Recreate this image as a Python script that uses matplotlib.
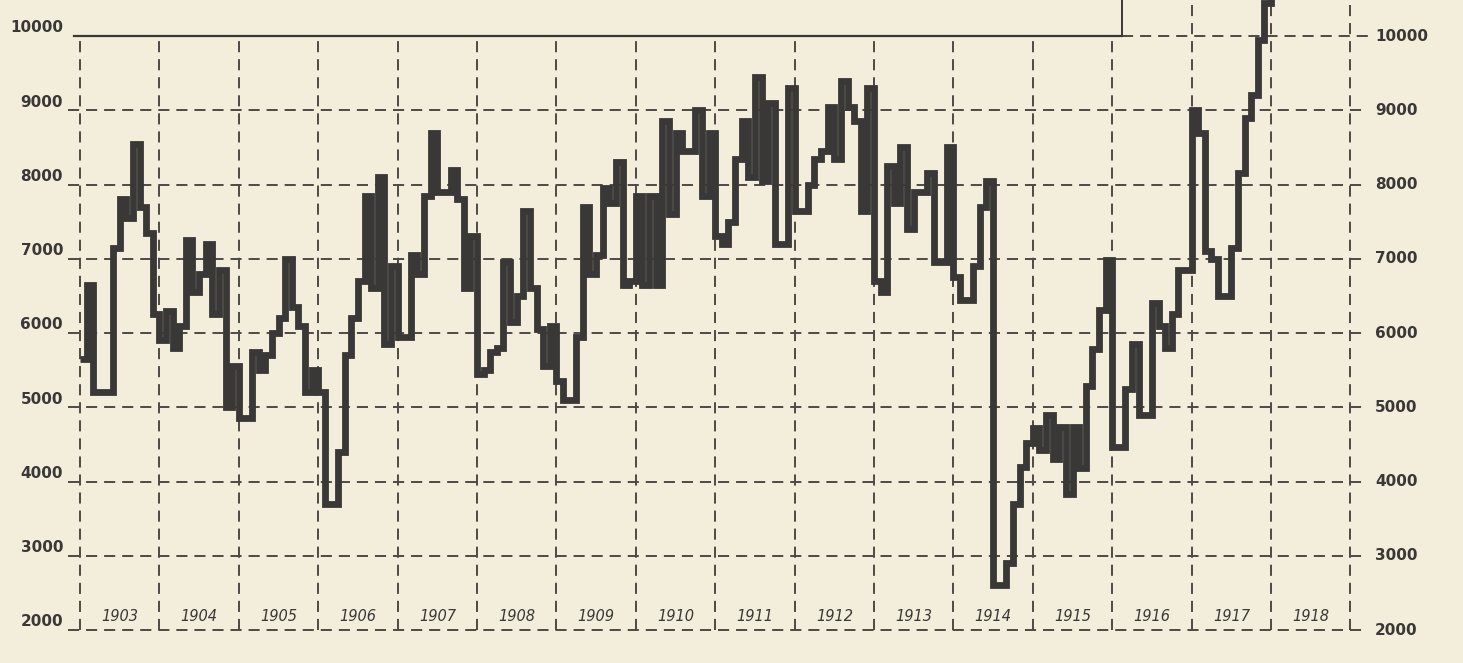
from pathlib import Path

import matplotlib.pyplot as plt
import numpy as np

OUTPUT = Path("out.png")

BG_COLOR = "#f2eedb"
INK = "#3a3836"
GRID_INK = "#4d4a46"

# layout of the scan: year 1903 starts at ~80 px, one year is ~79.4 px wide
PX_ORIGIN = 80.0
PX_PER_YEAR = 79.4

YEARS = list(range(1903, 1919))
YEAR_LABELS = [str(y) for y in YEARS]
Y_TICKS = [2000, 3000, 4000, 5000, 6000, 7000, 8000, 9000, 10000]
Y_LABELS = [str(v) for v in Y_TICKS]

# monthly values, Jan..Dec
values_1903 = [5650, 6650, 5200, 5200, 5200, 7150, 7800, 7550, 8550, 7700, 7350, 6250]
values_1904 = [5900, 6300, 5800, 6100, 7250, 6550, 6800, 7200, 6250, 6850, 5000, 5550]
values_1905 = [4850, 4850, 5750, 5500, 5700, 6000, 6200, 7000, 6350, 6100, 5200, 5500]
values_1906 = [5200, 3700, 3700, 4400, 5700, 6200, 6700, 7850, 6600, 8100, 5850, 6900]
values_1907 = [5950, 5950, 7050, 6800, 7850, 8700, 7900, 7900, 8200, 7800, 6600, 7300]
values_1908 = [5450, 5500, 5750, 5800, 6950, 6150, 6500, 7650, 6600, 6050, 5550, 6100]
values_1909 = [5350, 5100, 5100, 5950, 7700, 6800, 7050, 7950, 7750, 8300, 6650, 6700]
values_1910 = [7850, 6650, 7850, 6650, 8850, 7600, 8700, 8450, 8450, 9000, 7850, 8700]
values_1911 = [7300, 7200, 7500, 8350, 8850, 8100, 9450, 8050, 9100, 7200, 7200, 9300]
values_1912 = [7650, 7650, 8000, 8350, 8450, 9050, 8350, 9400, 9050, 8850, 7650, 9300]
values_1913 = [6700, 6550, 8250, 7750, 8500, 7400, 7900, 7900, 8150, 6950, 6950, 8500]
values_1914 = [6750, 6450, 6450, 6900, 7700, 8050, 2600, 2600, 2900, 3700, 4200, 4520]
values_1915 = [4720, 4420, 4890, 4310, 4730, 3830, 4730, 4180, 5290, 5780, 6310, 6980]
values_1916 = [4470, 4470, 5250, 5850, 4900, 4900, 6400, 6100, 5800, 6250, 6850, 6850]
values_1917 = [9000, 8700, 7100, 7000, 6500, 6500, 7150, 8150, 8900, 9200, 9950, 10450]
values_1918 = [11200]


def px(x_pixel):
    """Convert a horizontal pixel position of the scan to years."""
    return 1903 + (x_pixel - PX_ORIGIN) / PX_PER_YEAR


def build_series():
    monthly = np.concatenate(
        [
            values_1903, values_1904, values_1905, values_1906,
            values_1907, values_1908, values_1909, values_1910,
            values_1911, values_1912, values_1913, values_1914,
            values_1915, values_1916, values_1917, values_1918,
        ]
    ).astype(float)
    edges = 1903 + np.arange(monthly.size + 1) / 12.0
    return edges, monthly


def dashed(ax, xs, ys, lw=1.4):
    (line,) = ax.plot(xs, ys, color=GRID_INK, linewidth=lw, zorder=1)
    line.set_dashes([8, 5])
    return line


def plot_chart(output_path):
    plt.rcParams["lines.scale_dashes"] = False
    fig = plt.figure(figsize=(14.63, 6.63), dpi=100, facecolor=BG_COLOR)
    ax = fig.add_axes([0, 0, 1, 1])
    ax.set_facecolor(BG_COLOR)
    ax.set_xlim(px(0), px(1463))
    ax.set_ylim(1556, 10485)
    ax.axis("off")

    x_left = px(68)
    x_right = px(1368)
    box_end = px(1122)

    # horizontal grid
    for value in Y_TICKS[:-1]:
        dashed(ax, [x_left, x_right], [value, value])
    top = Y_TICKS[-1]
    ax.plot([px(74), box_end], [top, top], color=INK, linewidth=1.6, zorder=2)
    ax.plot([box_end, box_end], [top, ax.get_ylim()[1]], color=INK,
            linewidth=1.4, zorder=2)
    dashed(ax, [box_end, x_right], [top, top])

    # vertical grid, one line per year boundary
    for year in YEARS + [1919]:
        upper = top if year < box_end else ax.get_ylim()[1]
        dashed(ax, [year, year], [Y_TICKS[0], upper])

    # the series
    edges, monthly = build_series()
    ax.stairs(monthly, edges, color=INK, linewidth=4.9, baseline=None,
              joinstyle="miter", zorder=3)

    # axis labels on both sides
    for value, label in zip(Y_TICKS, Y_LABELS):
        ax.text(px(63), value + 110, label, ha="right", va="center",
                fontsize=11, fontweight="bold", color=INK)
        ax.text(px(1375), value, label, ha="left", va="center",
                fontsize=11, fontweight="bold", color=INK)

    for year, label in zip(YEARS, YEAR_LABELS):
        ax.text(year + 0.5, 2180, label, ha="center", va="center",
                fontsize=10.5, fontstyle="italic", color=INK)

    fig.savefig(output_path, dpi=100, facecolor=BG_COLOR)
    plt.close(fig)


def main():
    plot_chart(OUTPUT)


if __name__ == "__main__":
    main()
